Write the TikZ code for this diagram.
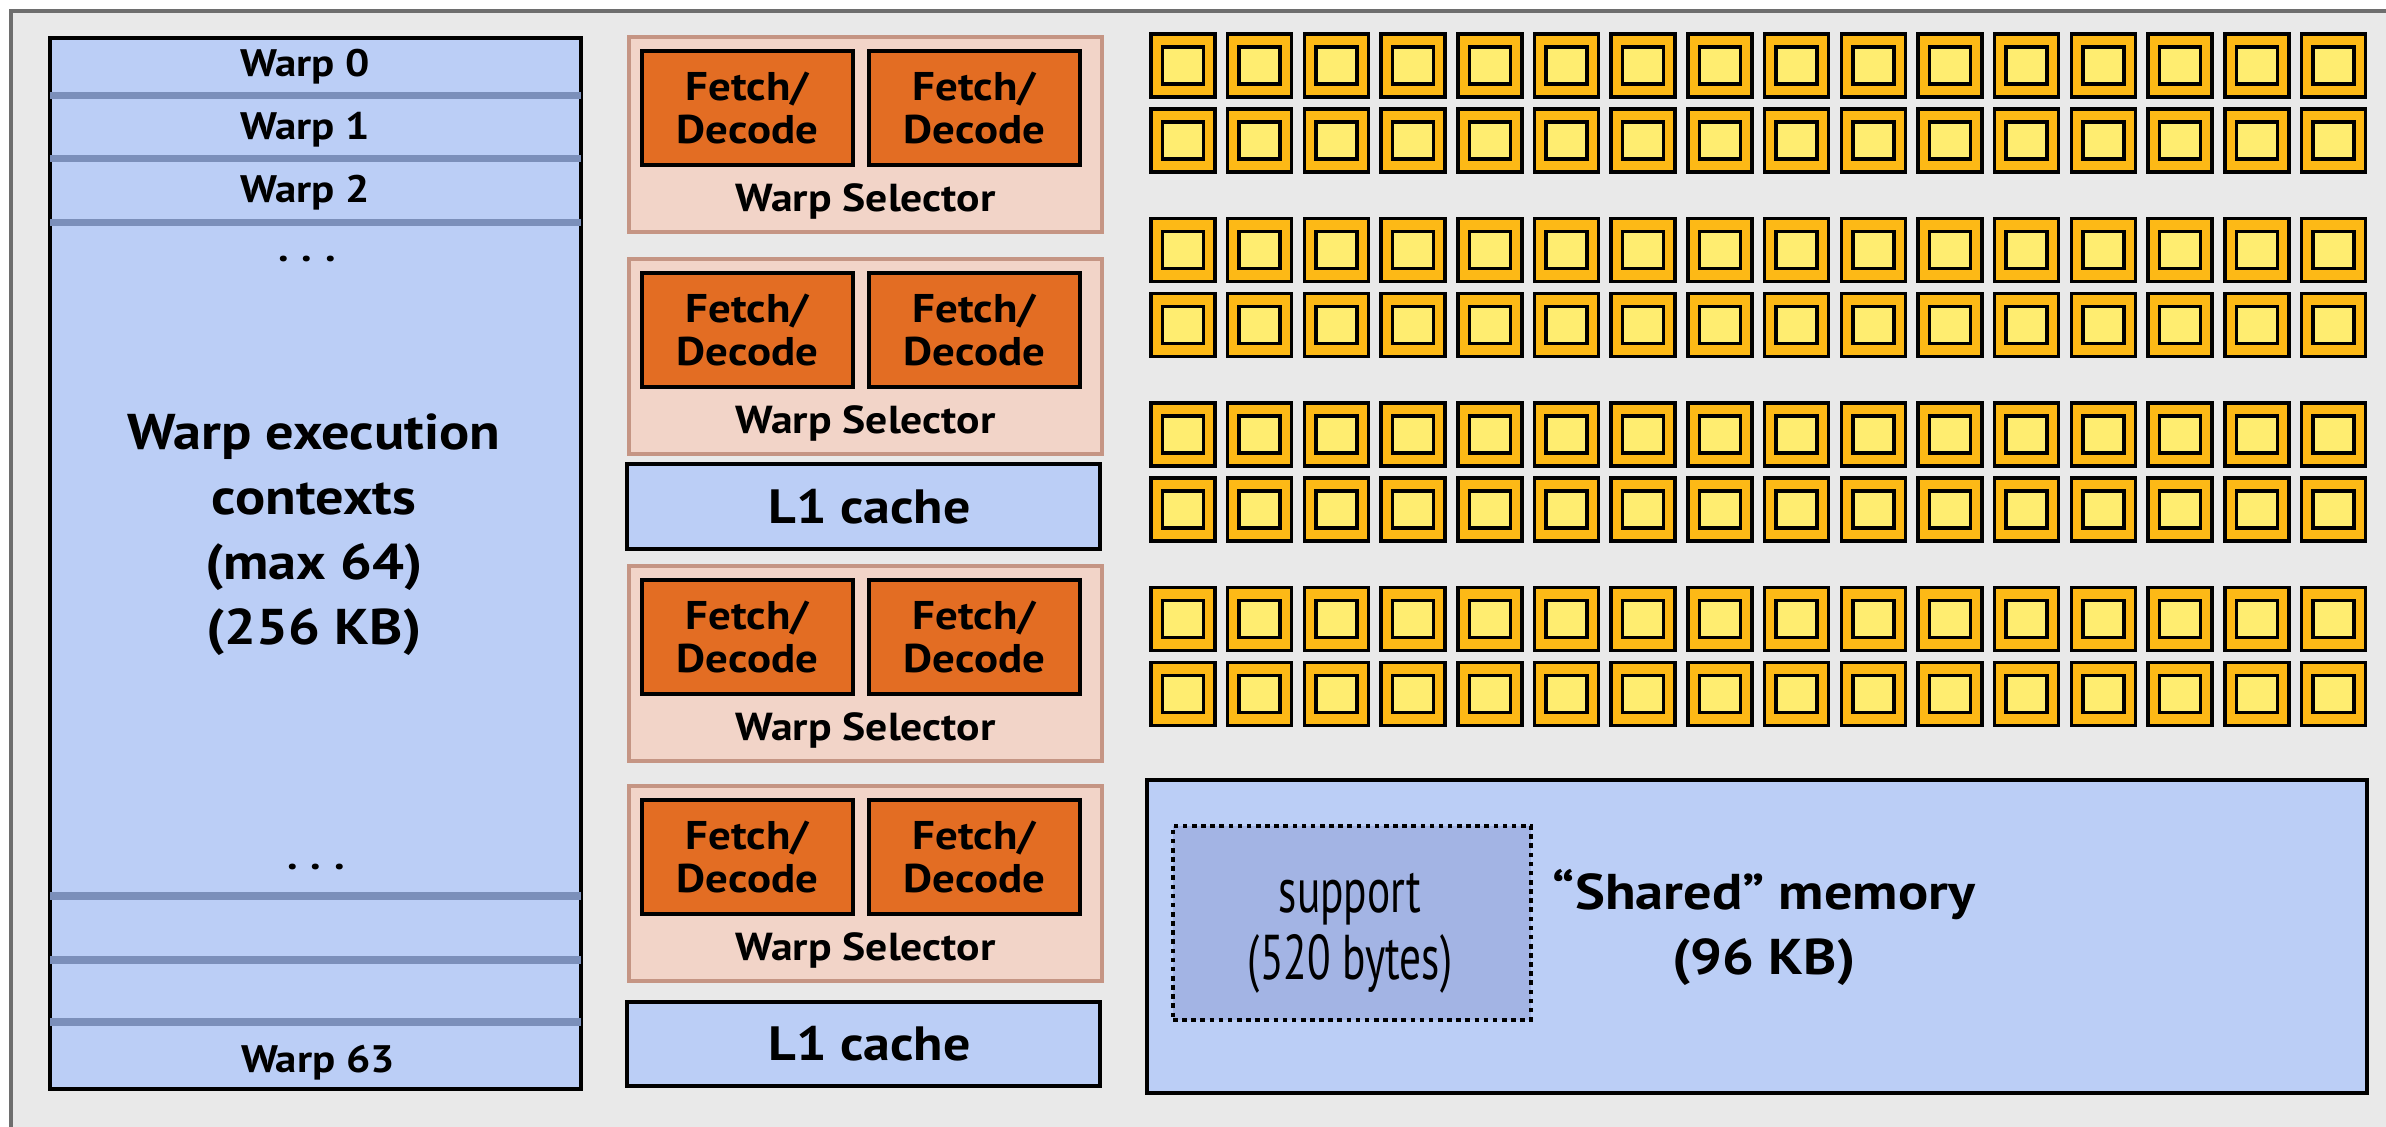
\documentclass[tikz,border=0pt]{standalone}
\usepackage{fontspec}
\setmainfont{PT Sans}[FakeStretch=1.12]
\newfontfamily\smthin[FakeStretch=0.685]{PT Sans}
\usepackage{tikz}
\usetikzlibrary{positioning}
\definecolor{smbg}{HTML}{E9E9E9}
\definecolor{smframe}{HTML}{6E6E6E}
\definecolor{smblue}{HTML}{BBCEF6}
\definecolor{smsepcol}{HTML}{7B8FBA}
\definecolor{smpink}{HTML}{F2D4C8}
\definecolor{smpinkline}{HTML}{C59584}
\definecolor{smorange}{HTML}{E36D23}
\definecolor{smdeep}{HTML}{A3B4E4}
\definecolor{smgold}{HTML}{FDB916}
\definecolor{smlemon}{HTML}{FFED70}
\tikzset{
  smbox/.style={draw=black,line width=1pt,inner sep=0pt},
  smwarps/.style={smbox,fill=smblue,minimum width=5.31cm,minimum height=10.51cm},
  smsep/.style={line width=2pt,smsepcol},
  smwarp/.style={font=\bfseries\fontsize{10.9}{13}\selectfont,inner sep=0pt},
  smbig/.style={font=\bfseries\fontsize{14.3}{18.5}\selectfont,align=center,inner sep=0pt},
  smselect/.style={draw=smpinkline,line width=1pt,fill=smpink,
                   minimum width=4.73cm,minimum height=1.95cm,inner sep=0pt},
  smfetch/.style={smbox,fill=smorange,minimum width=2.11cm,minimum height=1.14cm,
                  align=center,font=\bfseries\fontsize{11.4}{12.5}\selectfont},
  smlabel/.style={font=\bfseries\fontsize{11.1}{12}\selectfont,inner sep=0pt},
  smcache/.style={smbox,fill=smblue,minimum width=4.73cm,
                  font=\bfseries\fontsize{13.7}{16}\selectfont},
  smcore/.style={smbox,fill=smgold,minimum width=0.64cm,minimum height=0.63cm},
  smalu/.style={smbox,fill=smlemon,minimum width=0.41cm,minimum height=0.37cm},
  smshared/.style={smbox,fill=smblue,minimum width=12.2cm,minimum height=3.13cm},
  smsupport/.style={draw=black,line width=1pt,dash pattern=on 1.3pt off 1.3pt,
                    fill=smdeep,minimum width=3.58cm,minimum height=1.94cm},
  smthintext/.style={font=\smthin\fontsize{18}{19}\selectfont,align=center,inner sep=0pt}
}

\begin{document}
\begin{tikzpicture}[x=1cm,y=1cm]
  \useasboundingbox (0,0) rectangle (23.86,-11.27);
  \fill[smbg] (0.11,-0.11) rectangle (23.86,-11.27);
  \draw[smframe,line width=1.1pt] (23.86,-0.11) -- (0.11,-0.11) -- (0.11,-11.27);

  % warp execution contexts
  \node[smwarps] (warps) at (3.155,-5.635) {};
  \foreach \y in {0.96,1.59,2.23,8.96,9.60,10.22}
    \draw[smsep] ([xshift=0.5pt]warps.west |- 0,-\y) -- ([xshift=-0.5pt]warps.east |- 0,-\y);
  \node[smwarp] (warp0) at (3.05,-0.67) {Warp 0};
  \node[smwarp] (warp1) at (3.05,-1.30) {Warp 1};
  \node[smwarp] (warp2) at (3.05,-1.93) {Warp 2};
  \node[smwarp,anchor=base] (dotsA) at (3.07,-2.62) {.\,\,.\,\,.};
  \node[smbig] (contexts) at (3.14,-5.35)
    {Warp execution\\contexts\\(max 64)\\(256 KB)};
  \node[smwarp,anchor=base] (dotsB) at (3.16,-8.70) {.\,\,.\,\,.};
  \node[smwarp] (warp63) at (3.18,-10.63) {Warp 63};

  % fetch/decode units and warp selectors
  \foreach \i/\top in {1/0.37,2/2.59,3/5.66,4/7.86}{
    \node[smselect] (sel\i) at (8.655,-\top-0.975) {};
    \node[smfetch,anchor=north west] (fetchL\i)
      at ([xshift=1.3mm,yshift=-1.4mm]sel\i.north west) {Fetch/\\Decode};
    \node[smfetch,anchor=north east] (fetchR\i)
      at ([xshift=-2.2mm,yshift=-1.4mm]sel\i.north east) {Fetch/\\Decode};
    \node[smlabel] (selname\i) at ([yshift=3.2mm]sel\i.south) {Warp Selector};
  }
  \node[smcache,minimum height=0.85cm] (cacheA) at (8.635,-5.065) {\hspace*{1.2mm}L1 cache};
  \node[smcache,minimum height=0.84cm] (cacheB) at (8.635,-10.44) {\hspace*{1.2mm}L1 cache};

  % cores
  \foreach \p in {0,...,3}
    \foreach \k in {0,1}
      \foreach \c in {0,...,15}{
        \node[smcore] (core-\p\k-\c) at ({11.83+0.767*\c},{-0.655-1.845*\p-0.75*\k}) {};
        \node[smalu] (alu-\p\k-\c) at (core-\p\k-\c) {};
      }

  % shared memory
  \node[smshared] (shared) at (17.57,-9.365) {};
  \node[smsupport] (support) at (13.52,-9.23) {};
  \node[smthintext] (supporttext) at (13.50,-9.33) {support\\(520 bytes)};
  \node[smbig] (sharedtext) at (17.64,-9.27) {“Shared” memory\\(96 KB)};
\end{tikzpicture}
\end{document}
